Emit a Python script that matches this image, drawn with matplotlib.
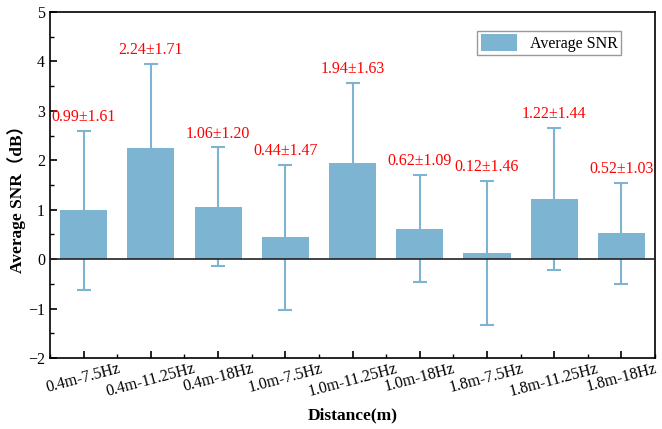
import matplotlib.pyplot as plt
import numpy as np

categories = ['0.4m-7.5Hz', '0.4m-11.25Hz', '0.4m-18Hz', '1.0m-7.5Hz', '1.0m-11.25Hz',
              '1.0m-18Hz', '1.8m-7.5Hz', '1.8m-11.25Hz', '1.8m-18Hz']
means = [0.99, 2.24, 1.06, 0.44, 1.94, 0.62, 0.12, 1.22, 0.52]
stds = [1.61, 1.71, 1.20, 1.47, 1.63, 1.09, 1.46, 1.44, 1.03]

plt.rcParams['font.family'] = ['Liberation Serif', 'Noto Sans CJK SC']
bar_color = '#7db4d1'

fig = plt.figure(figsize=(6.62, 4.29), dpi=100)
ax = fig.add_axes([0.0755, 0.1655, 0.914, 0.8065])

x = np.arange(len(categories))
ax.bar(x, means, width=0.7, color=bar_color, label='Average SNR', zorder=2)
ax.errorbar(x, means, yerr=stds, fmt='none', ecolor=bar_color, elinewidth=1.5,
            capsize=5, capthick=1.5, zorder=3)
ax.axhline(0, color='#222222', linewidth=1.2, zorder=4)

# mean ± sd labels above the error bars
for xi, m, s in zip(x, means, stds):
    ax.text(xi, m + s + 0.12, f'{m:.2f}±{s:.2f}', color='red', ha='center',
            va='bottom', fontsize=11.5)

ax.set_xlim(-0.5, 8.5)
ax.set_ylim(-2, 5)
ax.set_yticks(range(-2, 6))
ax.set_yticks(np.arange(-2, 5, 0.5), minor=True)
ax.set_xticks(x)
ax.set_xticks(np.arange(-0.5, 9, 1), minor=True)
ax.set_xticklabels(categories, rotation=15, ha='center')
ax.tick_params(which='both', direction='in', labelsize=11.5)
ax.tick_params(which='major', length=5, width=1.2)
ax.tick_params(which='minor', length=3, width=1)
ax.tick_params(axis='x', which='major', pad=2)

for sp in ax.spines.values():
    sp.set_linewidth(1.2)

ax.set_xlabel('Distance(m)', fontsize=12.5, fontweight='bold')
ax.xaxis.set_label_coords(0.5, -0.165)
ax.xaxis.label.set_va('center')
ax.set_ylabel('Average SNR（dB）', fontsize=12.5, fontweight='bold')
ax.yaxis.set_label_coords(-0.056, 0.47)
ax.yaxis.label.set_va('center')

leg = ax.legend(loc='upper right', bbox_to_anchor=(0.944, 0.945), fancybox=False,
                edgecolor='gray', fontsize=11.5, handlelength=2.3, handleheight=1.2,
                borderpad=0.2, borderaxespad=0)
leg.get_frame().set_linewidth(1)

plt.savefig('out.png')
